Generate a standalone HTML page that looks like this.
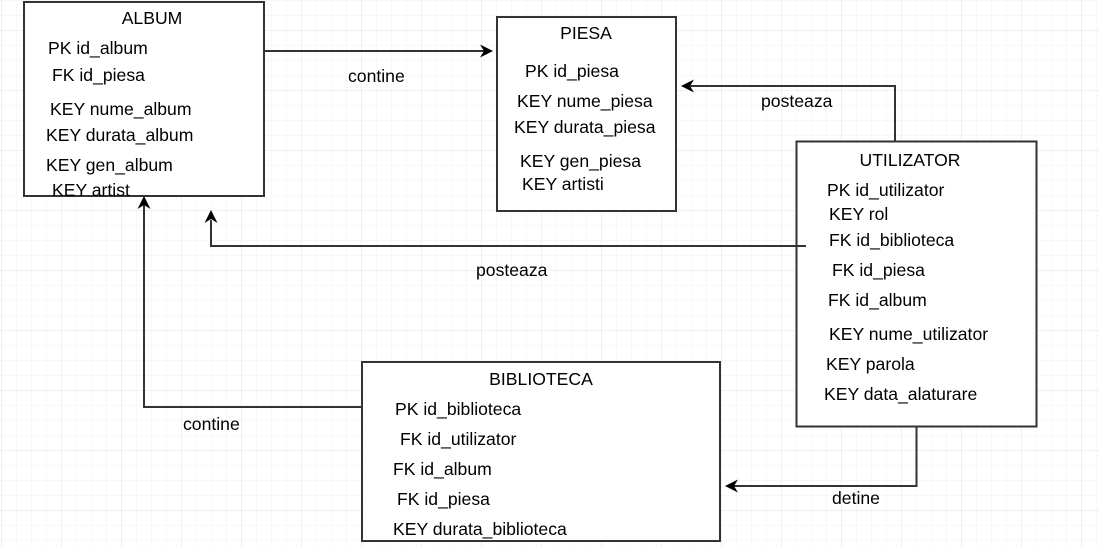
<!DOCTYPE html>
<html><head><meta charset="utf-8"><style>
html,body{margin:0;padding:0;background:#fff}
svg{display:block}
text{font-family:"Liberation Sans",Arial,sans-serif;font-size:17.6px;fill:#000}
</style></head><body>
<svg width="1099" height="547" xmlns="http://www.w3.org/2000/svg">
<defs>
<pattern id="g" width="15" height="15" patternUnits="userSpaceOnUse" x="1" y="0">
<path d="M0 0H15M0 0V15" stroke="#f0f0f0" stroke-width="1" fill="none"/>
</pattern>
<pattern id="G" width="60" height="60" patternUnits="userSpaceOnUse" x="1" y="30">
<path d="M0 0H60M0 0V60" stroke="#e2e2e2" stroke-width="1" fill="none"/>
</pattern>
</defs>
<rect width="1099" height="547" fill="url(#g)"/>
<rect width="1099" height="547" fill="url(#G)"/>

<g stroke="#333" stroke-width="2" fill="#fff">
<rect x="24" y="2" width="240" height="194"/>
<rect x="497" y="17" width="179" height="194"/>
<rect x="796.5" y="141.5" width="240" height="285"/>
<rect x="362" y="362" width="358" height="179"/>
</g>

<g stroke="#333" stroke-width="2" fill="none">
<path d="M264 51H484"/>
<path d="M895 141V86H690"/>
<path d="M806 246H211V220"/>
<path d="M362 407H144V205"/>
<path d="M916.5 427V486H734"/>
</g>
<g fill="#000">
<path d="M493 51L480 44.5L484 51L480 57.5Z"/>
<path d="M681 86L694 79.5L690 86L694 92.5Z"/>
<path d="M211 210L204.5 223L211 219L217.5 223Z"/>
<path d="M144 196L137.5 209L144 205L150.5 209Z"/>
<path d="M725 486L738 479.5L734 486L738 492.5Z"/>
</g>

<text x="152" y="24" text-anchor="middle">ALBUM</text>
<text x="48" y="54">PK id_album</text>
<text x="52" y="81">FK id_piesa</text>
<text x="50" y="115">KEY nume_album</text>
<text x="46" y="141">KEY durata_album</text>
<text x="46" y="171">KEY gen_album</text>
<text x="52" y="196">KEY artist</text>

<text x="586" y="39" text-anchor="middle">PIESA</text>
<text x="525" y="77">PK id_piesa</text>
<text x="517" y="107">KEY nume_piesa</text>
<text x="514" y="133">KEY durata_piesa</text>
<text x="520" y="167">KEY gen_piesa</text>
<text x="522" y="190">KEY artisti</text>

<text x="910" y="166" text-anchor="middle">UTILIZATOR</text>
<text x="827" y="196">PK id_utilizator</text>
<text x="829" y="220">KEY rol</text>
<text x="829" y="246">FK id_biblioteca</text>
<text x="832" y="276">FK id_piesa</text>
<text x="828" y="306">FK id_album</text>
<text x="829" y="340">KEY nume_utilizator</text>
<text x="826" y="370">KEY parola</text>
<text x="824" y="400">KEY data_alaturare</text>

<text x="541" y="385" text-anchor="middle">BIBLIOTECA</text>
<text x="395" y="415">PK id_biblioteca</text>
<text x="400" y="445">FK id_utilizator</text>
<text x="393" y="475">FK id_album</text>
<text x="397" y="505">FK id_piesa</text>
<text x="393" y="535">KEY durata_biblioteca</text>

<text x="348" y="82">contine</text>
<text x="761" y="107">posteaza</text>
<text x="476" y="276">posteaza</text>
<text x="183" y="430">contine</text>
<text x="832" y="504">detine</text>
</svg>
</body></html>
